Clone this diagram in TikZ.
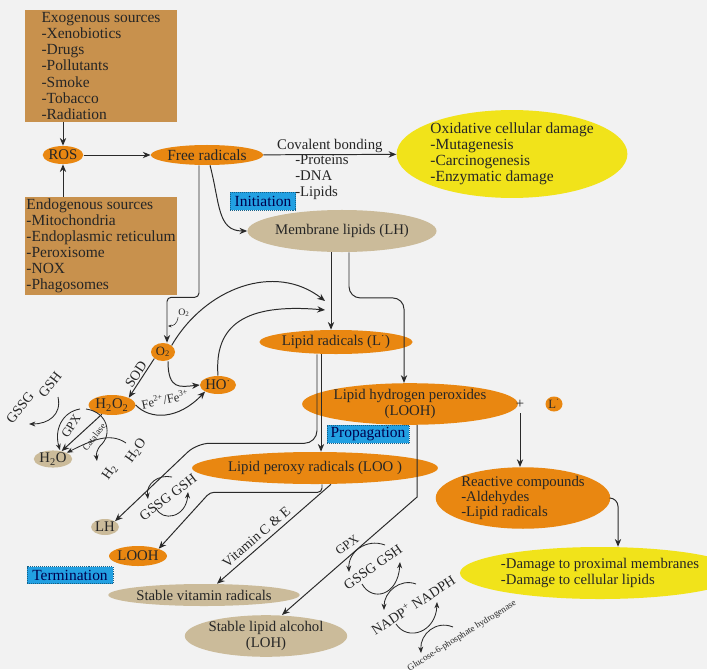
\documentclass[tikz,border=0pt]{standalone}
\usepackage{fontspec}
\setmainfont{Liberation Serif}
\usetikzlibrary{arrows.meta,positioning,calc,shapes.geometric}
\definecolor{bg}{HTML}{F2F2F2}
\definecolor{src}{HTML}{C8914D}
\definecolor{rad}{HTML}{E98711}
\definecolor{lip}{HTML}{CBBB9A}
\definecolor{harm}{HTML}{F1E31A}
\definecolor{phase}{HTML}{22A0E2}
\definecolor{ink}{HTML}{2A2A2A}

\begin{document}
\begin{tikzpicture}[x=0.025cm,y=-0.025cm,
  font=\fontsize{10.5}{11.4}\selectfont,text=black!85,
  srcbox/.style={fill=src,align=left,inner sep=0pt,minimum width=3.8cm,
    font=\fontsize{11}{11.4}\selectfont},
  bub/.style={ellipse,fill=#1,inner sep=0pt,align=center},
  phasebox/.style={fill=phase,draw=phase!60!black,densely dotted,inner sep=0pt,
    text=blue!30!black,font=\fontsize{11}{12}\selectfont},
  flow/.style={-{Stealth[length=5.5pt,width=4.5pt]},line width=.7pt,draw=ink},
  cyc/.style={-{Stealth[length=4.5pt,width=3.5pt]},line width=.6pt,draw=ink},
  link/.style={line width=.6pt,draw=ink},
  tag/.style={font=\fontsize{10}{11}\selectfont,inner sep=1pt}
]
\fill[bg] (0,0) rectangle (707,669);
\useasboundingbox (0,0) rectangle (707,669);

\node[srcbox,minimum height=2.8cm] (exo) at (101,66) {Exogenous sources\\-Xenobiotics\\-Drugs\\-Pollutants\\-Smoke\\-Tobacco\\-Radiation};
\node[srcbox,minimum height=2.45cm] (endo) at (101,246) {Endogenous sources\\-Mitochondria\\-Endoplasmic reticulum\\-Peroxisome\\-NOX\\-Phagosomes};
\node[bub=rad,minimum width=1cm,minimum height=.45cm] (ros) at (63,155) {ROS};
\node[bub=rad,minimum width=2.5cm,minimum height=.5cm,font=\fontsize{11}{12}\selectfont] (fr) at (207,155) {Free radicals};
\node[bub=harm,align=left,minimum width=5.425cm,minimum height=2.125cm,font=\fontsize{11}{11.4}\selectfont] (dam) at (512,154)
  {Oxidative cellular damage\\-Mutagenesis\\-Carcinogenesis\\-Enzymatic damage};
\node[align=left,anchor=north west,inner sep=0pt] (cov) at (295,154) {-Proteins\\-DNA\\-Lipids};
\node[phasebox,minimum width=1.625cm,minimum height=.45cm] (ini) at (263,201) {Initiation};
\node[bub=lip,minimum width=3.6cm,minimum height=1.05cm] (ml) at (342,231) {Membrane lipids (LH)};

\node[bub=rad,minimum width=.6cm,minimum height=.45cm,font=\fontsize{9}{10}\selectfont] (oxy) at (163,352) {O\textsubscript{2}};
\node[inner sep=0pt,font=\fontsize{7}{8}\selectfont] (otwo) at (184,313) {O\textsubscript{2}};
\node[bub=rad,minimum width=.68cm,minimum height=.45cm] (ho) at (218,385) {HO\textsuperscript{·}};
\node[bub=rad,minimum width=.975cm,minimum height=.5cm] (h2o2) at (112,405) {H\textsubscript{2}O\textsubscript{2}};
\node[bub=lip,minimum width=.8cm,minimum height=.425cm] (wat) at (53,459) {H\textsubscript{2}O};

\node[bub=rad,minimum width=3.325cm,minimum height=.6cm] (lr) at (336,342) {Lipid radicals (L\textsuperscript{·})};
\node[bub=rad,minimum width=4.425cm,minimum height=.925cm] (looh) at (410,404) {Lipid hydrogen peroxides\\(LOOH)};
\node (plus) at (520,404) {+};
\node[bub=rad,minimum width=.425cm,minimum height=.375cm,font=\fontsize{9}{10}\selectfont] (ldot) at (554,404) {L\textsuperscript{·}};
\node[phasebox,minimum width=2.05cm,minimum height=.45cm] (prop) at (368,434) {Propagation};
\node[bub=rad,minimum width=4.825cm,minimum height=.8cm] (lpr) at (315,468) {Lipid peroxy radicals (LOO )};

\node[bub=lip,minimum width=.675cm,minimum height=.4cm] (lh) at (105,527) {LH};
\node[bub=rad,minimum width=1.25cm,minimum height=.5cm] (loohb) at (138,556) {LOOH};
\node[phasebox,minimum width=2.15cm,minimum height=.425cm] (term) at (70,575) {Termination};
\node[bub=lip,minimum width=4.1cm,minimum height=.55cm] (svr) at (204,595) {Stable vitamin radicals};
\node[bub=lip,minimum width=3.525cm,minimum height=.9cm] (sla) at (266,636) {Stable lipid alcohol\\(LOH)};

\node[bub=rad,align=left,minimum width=4cm,minimum height=1.5cm,font=\fontsize{10.5}{10.7}\selectfont] (rc) at (523,498)
  {Reactive compounds\\-Aldehydes\\-Lipid radicals};
\node[bub=harm,align=left,minimum width=5.35cm,minimum height=1.3cm] (dmg) at (600,573)
  {-Damage to proximal membranes\\-Damage to cellular lipids};

\node[tag,rotate=52] (gsha) at (50,385) {GSH};
\node[tag,rotate=52] (gssga) at (20,408) {GSSG};
\node[tag,rotate=58,font=\fontsize{9}{10}\selectfont] (gpxa) at (71,426) {GPX};
\node[tag,rotate=52,font=\fontsize{6.5}{7}\selectfont] (cat) at (94,437) {Catalase};
\node[tag,rotate=55] (hwr) at (136,451) {H\textsubscript{2}O};
\node[tag,rotate=55] (htwo) at (110,472) {H\textsubscript{2}};
\node[tag,rotate=37] (gsb) at (168,497) {GSSG GSH};
\node[tag,rotate=37,font=\fontsize{9}{10}\selectfont] (gpxb) at (347,545) {GPX};
\node[tag,rotate=35] (gsc) at (373,567) {GSSG GSH};
\node[tag,rotate=33] (nadp) at (413,605) {NADP\textsuperscript{+} NADPH};
\node[tag,rotate=32,font=\fontsize{6.5}{7}\selectfont] (g6p) at (462,636) {Glucose-6-phosphate hydrogenase};

\coordinate (otip) at (168,326);
\coordinate (lra) at (325,301);
\coordinate (lrb) at (325,310);
\coordinate (gsa1) at (58,397);
\coordinate (gsa2) at (29,424);
\coordinate (cira) at (80,409);
\coordinate (cirb) at (86,409);
\coordinate (circ) at (100,446);
\coordinate (htip) at (97,461);
\coordinate (hsrc) at (126,443);
\coordinate (gsb1) at (172,477);
\coordinate (gsb2) at (148,499);
\coordinate (gsb3) at (156,508);
\coordinate (gsb4) at (188,492);
\coordinate (gsc1) at (385,545);
\coordinate (gsc2) at (349,572);
\coordinate (gsc3) at (362,584);
\coordinate (gsc4) at (400,562);
\coordinate (nad1) at (416,584);
\coordinate (nad2) at (384,610);
\coordinate (nad3) at (396,624);
\coordinate (nad4) at (437,602);
\coordinate (g6p1) at (453,627);
\coordinate (g6p2) at (421,653);

\foreach \source/\target in {ros/fr,h2o2/wat}
  \draw[flow] (\source) -- (\target);
\draw[flow] (exo.south -| ros) -- (ros);
\draw[flow] (endo.north -| ros) -- (ros);
\draw[flow] (fr) -- node[above,inner sep=1pt] {Covalent bonding} (dam);
\draw[flow] ($(fr.south)+(3,0)$) .. controls +(10,38) and +(-30,0) .. (ml.west);
\draw[flow,rounded corners=3pt] ($(fr.south)+(-8,0)$) -- ++(0,132) -| ($(oxy.north)+(4,0)$);
\draw[-{Stealth[length=2.5pt,width=2pt]},line width=.4pt,draw=ink] (otwo.south west) .. controls +(-1,7) and +(5,0) .. (otip);
\draw[flow] (oxy.north east) .. controls (205,288) and (275,262) .. (lra);
\draw[flow] (ho.north) .. controls (214,325) and (245,303) .. (lrb);
\draw[flow] ($(ml.south)+(-11,0)$) -- ($(lr.north)+(-5,0)$);
\draw[flow,rounded corners=8pt] ($(ml.south)+(7,0)$) |- ($(looh.north)+(-6,-85)$) -- ($(looh.north)+(-6,0)$);

\draw[flow] (oxy.south west) -- node[above,sloped,tag] {SOD} (h2o2.north east);
\draw[flow] (h2o2.east) .. controls (150,420) and (178,420) .. (ho.south west);
\node[tag,rotate=12,font=\fontsize{9}{10}\selectfont] (fe) at (165,399) {Fe\textsuperscript{2+}/Fe\textsuperscript{3+}};
\draw[flow] ($(oxy.south)+(5,0)$) .. controls (168,390) and (180,387) .. (ho.west);

\draw[cyc] (gsa1) .. controls (62,415) and (48,424) .. (gsa2);
\draw[cyc] (cira) .. controls (62,412) and (54,430) .. ($(wat.north)+(7,0)$);
\draw[link] (cirb) .. controls (108,412) and (113,435) .. (circ);
\draw[cyc] (circ) .. controls (97,450) and (96,454) .. (htip);
\draw[cyc] (hsrc) .. controls (110,432) and (92,440) .. (wat.north east);

\draw[flow,rounded corners=9pt] ($(lr.south)+(-19,0)$) -- ++(0,89) -- ++(-120,0) -- (lh.north east);
\draw[flow,rounded corners=3pt] ($(lpr.south)+(7,0)$) -- ++(0,8) -- ++(-112,0) -- (loohb.north east);
\draw[cyc] (gsb1) .. controls (158,474) and (146,484) .. (gsb2);
\draw[cyc] (gsb3) .. controls (162,522) and (186,518) .. (gsb4);
\draw[flow] ($(lr.south)+(-15,0)$) -- ($(lpr.north)+(6,0)$);
\draw[flow] ($(lpr.south)+(16,0)$) -- node[above=2pt,sloped,tag,pos=.6] {Vitamin C \& E} ($(svr.north)+(13,0)$);
\draw[flow] ($(looh.south)+(7,0)$) -- ++(0,72) -- ($(sla.north)+(16,0)$);

\draw[cyc] (gsc1) .. controls (366,538) and (348,552) .. (gsc2);
\draw[cyc] (gsc3) .. controls (372,602) and (398,596) .. (gsc4);
\draw[cyc] (nad1) .. controls (400,578) and (384,592) .. (nad2);
\draw[cyc] (nad3) .. controls (408,642) and (436,632) .. (nad4);
\draw[cyc] (g6p1) .. controls (436,620) and (420,634) .. (g6p2);

\draw[flow] (plus) -- (plus |- rc.north);
\draw[flow,rounded corners=6pt] (rc.east) -| ($(dmg.north)+(18,0)$);
\end{tikzpicture}
\end{document}
